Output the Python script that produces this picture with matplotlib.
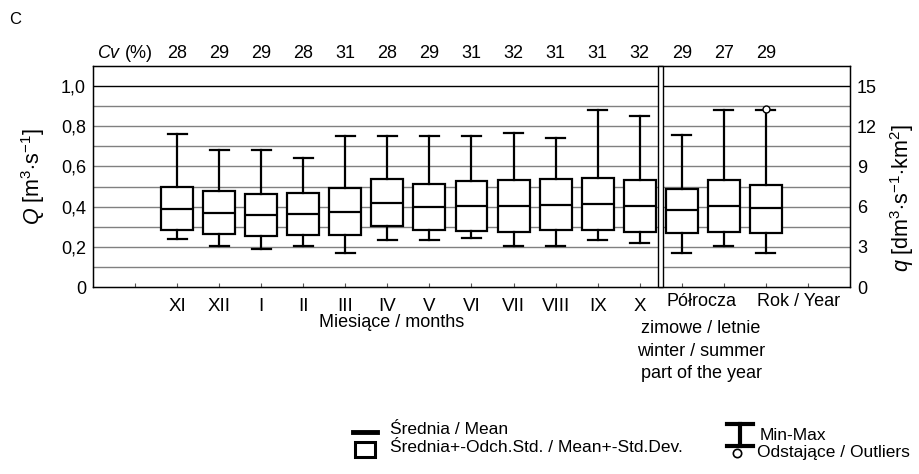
import matplotlib
matplotlib.use("Agg")
import matplotlib.pyplot as plt
from matplotlib import transforms
from matplotlib.lines import Line2D
from matplotlib.patches import Rectangle

plt.rcParams['font.family'] = ['Liberation Sans', 'DejaVu Sans']
plt.rcParams['mathtext.fontset'] = 'custom'
plt.rcParams['mathtext.rm'] = 'Liberation Sans'
plt.rcParams['mathtext.it'] = 'Liberation Sans:italic'

# values (Q in m3/s)
groups = ['XI', 'XII', 'I', 'II', 'III', 'IV', 'V', 'VI', 'VII', 'VIII', 'IX', 'X',
          'winter', 'summer', 'year']
month_labels = ['XI', 'XII', 'I', 'II', 'III', 'IV', 'V', 'VI', 'VII', 'VIII', 'IX', 'X']
mean = [0.390, 0.370, 0.360, 0.364, 0.375, 0.420, 0.397, 0.403, 0.403, 0.410, 0.412, 0.403,
        0.382, 0.403, 0.392]
sd_low = [0.282, 0.262, 0.256, 0.259, 0.259, 0.302, 0.282, 0.277, 0.274, 0.282, 0.286, 0.274,
          0.269, 0.274, 0.271]
sd_high = [0.498, 0.480, 0.463, 0.470, 0.493, 0.538, 0.515, 0.530, 0.531, 0.538, 0.543, 0.533,
           0.490, 0.531, 0.508]
q_min = [0.241, 0.203, 0.189, 0.203, 0.171, 0.233, 0.233, 0.242, 0.203, 0.203, 0.232, 0.220,
         0.171, 0.203, 0.171]
q_max = [0.762, 0.681, 0.681, 0.641, 0.752, 0.752, 0.752, 0.752, 0.769, 0.741, 0.880, 0.852,
         0.759, 0.880, 0.880]
outliers = [[], [], [], [], [], [], [], [], [], [], [], [], [], [], [0.885]]
cv = [28, 29, 29, 28, 31, 28, 29, 31, 32, 31, 31, 32, 29, 27, 29]
positions = [2, 3, 4, 5, 6, 7, 8, 9, 10, 11, 12, 13, 14, 15, 16]

W, H = 919, 474
fig = plt.figure(figsize=(W / 100, H / 100), dpi=100)


def fx(px):
    return px / W


def fy(py):
    return 1 - py / H


ax = fig.add_axes([fx(93), fy(287), fx(850) - fx(93), fy(66) - fy(287)])
ax.set_xlim(0, 18)
ax.set_ylim(0, 1.1)

# horizontal lines every 0.1
for k in range(1, 11):
    v = k / 10
    ax.axhline(v, color='black' if k == 10 else '#808080', lw=1.0, zorder=1)

stats = []
for i in range(len(groups)):
    stats.append({'med': mean[i], 'q1': sd_low[i], 'q3': sd_high[i],
                  'whislo': q_min[i], 'whishi': q_max[i], 'fliers': outliers[i],
                  'label': groups[i]})

ax.bxp(stats, positions=positions, widths=0.76, capwidths=0.45, patch_artist=True,
       showfliers=True, manage_ticks=False,
       boxprops=dict(facecolor='white', edgecolor='black', linewidth=1.6),
       medianprops=dict(color='black', linewidth=1.6),
       whiskerprops=dict(color='black', linewidth=1.6),
       capprops=dict(color='black', linewidth=1.6),
       flierprops=dict(marker='o', markersize=5, markerfacecolor='white',
                       markeredgecolor='black', markeredgewidth=1.0),
       zorder=3)

# double divider between months and half-years
ax.add_patch(Rectangle((13.445, 0), 0.12, 1.1, facecolor='white', edgecolor='black',
                       lw=1.0, zorder=4, clip_on=False))

ax.set_xticks(list(range(1, 18)))
ax.set_xticklabels([])
ax.tick_params(axis='x', direction='in', length=3, width=0.8, color='#555555')
ax.set_yticks([0, 0.2, 0.4, 0.6, 0.8, 1.0])
ax.set_yticklabels(['0', '0,2', '0,4', '0,6', '0,8', '1,0'])
ax.tick_params(axis='y', length=0, pad=5, labelsize=13)
for s in ax.spines.values():
    s.set_linewidth(1.0)

ax2 = ax.twinx()
ax2.set_ylim(0, 16.5)
ax2.set_yticks([0, 3, 6, 9, 12, 15])
ax2.tick_params(axis='y', length=0, pad=5, labelsize=13)

tr = transforms.blended_transform_factory(ax.transData, fig.transFigure)

# Cv row
for p, c in zip(positions, cv):
    ax.text(p, fy(53), str(c), transform=tr, ha='center', va='center', fontsize=13)
ax.text(1.43, fy(53), r'$\it{Cv}$ (%)', transform=tr, ha='right', va='center', fontsize=13)

# x labels
for p, lab in zip(positions[:12], month_labels):
    ax.text(p, fy(311), lab, transform=tr, ha='center', va='baseline', fontsize=13.5)
ax.text(7.1, fy(327), 'Miesiące / months', transform=tr, ha='center', va='baseline',
        fontsize=13)
ax.text(14.46, fy(302), 'Półrocza', transform=tr, ha='center', va='center', fontsize=13)
ax.text(16.78, fy(302), 'Rok / Year', transform=tr, ha='center', va='center', fontsize=13)
ax.text(14.46, fy(351), 'zimowe / letnie\nwinter / summer\npart of the year', transform=tr,
        ha='center', va='center', fontsize=13, linespacing=1.43)

fig.text(fx(15), fy(19), 'C', ha='center', va='center', fontsize=12)

fig.text(fx(33), fy(177), r'$Q\ [\mathrm{m^{3}{\cdot}s^{-1}}]$', rotation=90,
         ha='center', va='center', fontsize=15.5)
fig.text(fx(902), fy(198), r'$q\ [\mathrm{dm^{3}{\cdot}s^{-1}{\cdot}km^{2}}]$', rotation=90,
         ha='center', va='center', fontsize=15.5)

# legend
fig.add_artist(Line2D([fx(353), fx(377)], [fy(432), fy(432)], color='black', lw=3.5))
fig.add_artist(Rectangle((fx(355), fy(457)), fx(20), 15 / H, facecolor='white',
                         edgecolor='black', lw=2.2, transform=fig.transFigure))
fig.text(fx(390), fy(430), 'Średnia / Mean', ha='left', va='center', fontsize=12.5)
fig.text(fx(390), fy(448), 'Średnia+-Odch.Std. / Mean+-Std.Dev.', ha='left', va='center',
         fontsize=12.5)

fig.add_artist(Line2D([fx(740), fx(740)], [fy(424), fy(446)], color='black', lw=3))
fig.add_artist(Line2D([fx(727), fx(753)], [fy(424), fy(424)], color='black', lw=3))
fig.add_artist(Line2D([fx(727), fx(753)], [fy(446), fy(446)], color='black', lw=3))
fig.add_artist(Line2D([fx(737)], [fy(453)], marker='o', markersize=6, markerfacecolor='white',
                      markeredgecolor='black', markeredgewidth=1.2, linestyle='none'))
fig.text(fx(760), fy(435), 'Min-Max', ha='left', va='center', fontsize=12.5)
fig.text(fx(757), fy(453), 'Odstające / Outliers', ha='left', va='center', fontsize=12.5)

fig.savefig('out.png', dpi=100)
